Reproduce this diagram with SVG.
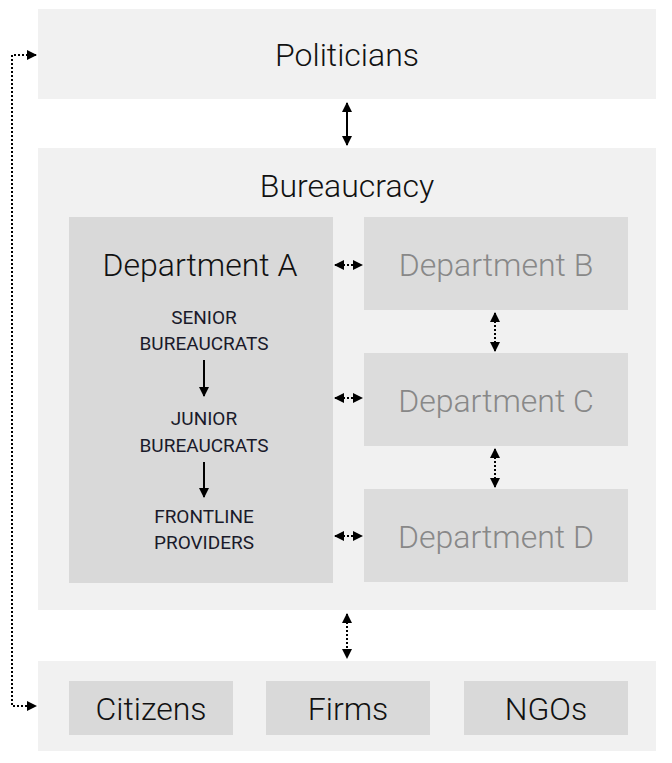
<svg xmlns="http://www.w3.org/2000/svg" width="672" height="763" viewBox="0 0 672 763">
<style>
.outer{fill:#f1f1f1}.inner{fill:#d9d9d9}.innerL{fill:#dcdcdc}
text{font-family:Roboto,"Liberation Sans",sans-serif;font-weight:300;text-anchor:middle;fill:#111}
.big{font-size:32px}.grey{fill:#888}.sm{font-size:19px;font-weight:400;fill:#1a1a2a}
.c{stroke:#000;stroke-width:2;fill:none}.d{stroke:#000;stroke-width:2;stroke-dasharray:2 2;fill:none}
</style>
<defs>
<marker id="ah" viewBox="0 0 10 10" refX="9" refY="5" markerWidth="5" markerHeight="5" orient="auto-start-reverse"><path d="M0,0L10,5L0,10z" fill="#000"/></marker>
</defs>
<g id="politicians"><rect class="outer" x="38" y="9" width="618" height="90"/><text class="big" x="347" y="66">Politicians</text></g>
<g id="bureaucracy"><rect class="outer" x="38" y="148" width="618" height="462"/><text class="big" x="347" y="197">Bureaucracy</text></g>
<g id="deptA"><rect class="inner" x="69" y="217" width="264" height="366"/><text class="big" x="200" y="276">Department A</text>
<text class="sm" x="204" y="324">SENIOR</text><text class="sm" x="204" y="350">BUREAUCRATS</text>
<text class="sm" x="204" y="425">JUNIOR</text><text class="sm" x="204" y="452">BUREAUCRATS</text>
<text class="sm" x="204" y="523">FRONTLINE</text><text class="sm" x="204" y="549">PROVIDERS</text></g>
<g id="deptB"><rect class="innerL" x="364" y="217" width="264" height="93"/><text class="big grey" x="496" y="276">Department B</text></g>
<g id="deptC"><rect class="innerL" x="364" y="353" width="264" height="93"/><text class="big grey" x="496" y="412">Department C</text></g>
<g id="deptD"><rect class="innerL" x="364" y="489" width="264" height="93"/><text class="big grey" x="496" y="548">Department D</text></g>
<g id="society"><rect class="outer" x="38" y="661" width="618" height="90"/></g>
<g id="citizens"><rect class="inner" x="69" y="681" width="164" height="54"/><text class="big" x="151" y="720">Citizens</text></g>
<g id="firms"><rect class="inner" x="266" y="681" width="164" height="54"/><text class="big" x="348" y="720">Firms</text></g>
<g id="ngos"><rect class="inner" x="464" y="681" width="164" height="54"/><text class="big" x="546" y="720">NGOs</text></g>
<g id="connectors">
<line class="c" x1="347" y1="103" x2="347" y2="145" marker-start="url(#ah)" marker-end="url(#ah)"/>
<line class="c" x1="204" y1="360" x2="204" y2="396" marker-end="url(#ah)"/>
<line class="c" x1="204" y1="462" x2="204" y2="497" marker-end="url(#ah)"/>
<line class="d" x1="335" y1="265" x2="362" y2="265" marker-start="url(#ah)" marker-end="url(#ah)"/>
<line class="d" x1="335" y1="398" x2="362" y2="398" marker-start="url(#ah)" marker-end="url(#ah)"/>
<line class="d" x1="335" y1="536" x2="362" y2="536" marker-start="url(#ah)" marker-end="url(#ah)"/>
<line class="d" x1="495" y1="313" x2="495" y2="351" marker-start="url(#ah)" marker-end="url(#ah)"/>
<line class="d" x1="495" y1="449" x2="495" y2="487" marker-start="url(#ah)" marker-end="url(#ah)"/>
<line class="d" x1="347" y1="614" x2="347" y2="658" marker-start="url(#ah)" marker-end="url(#ah)"/>
<polyline class="d" points="36,55 12,55 12,706 36,706" marker-start="url(#ah)" marker-end="url(#ah)"/>
</g>
</svg>
